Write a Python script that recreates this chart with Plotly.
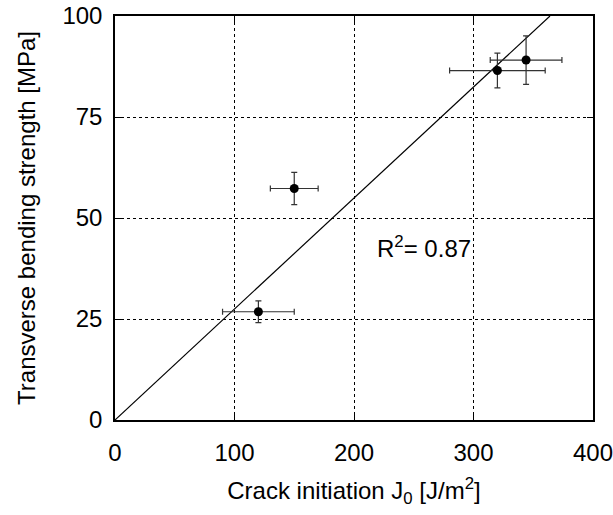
import plotly.graph_objects as go

# Data
j0 = [120, 150, 320, 344]
j0_err = [30, 20, 40, 30]
strength = [26.8, 57.3, 86.5, 89.1]
strength_err = [2.7, 4.0, 4.3, 6.0]

fit_x = [0, 364]
fit_y = [0, 100]

x_ticks = [0, 100, 200, 300, 400]
y_ticks = [0, 25, 50, 75, 100]

font_family = "Liberation Sans, Arial, Helvetica, sans-serif"
fs = 24

fig = go.Figure()
fig.add_trace(go.Scatter(
    x=fit_x, y=fit_y, mode="lines",
    line=dict(color="black", width=1.2), showlegend=False, hoverinfo="skip"))
fig.add_trace(go.Scatter(
    x=j0, y=strength, mode="markers",
    marker=dict(color="black", size=9),
    error_x=dict(type="data", array=j0_err, color="#333333", thickness=1.2, width=3),
    error_y=dict(type="data", array=strength_err, color="#333333", thickness=1.2, width=3),
    showlegend=False))

fig.add_annotation(x=258.6, y=42.8, text="R<sup>2</sup>= 0.87", showarrow=False,
                   font=dict(size=fs, color="black", family=font_family))

axis_common = dict(
    showgrid=True, gridcolor="black", griddash="dot", gridwidth=1,
    showline=True, linecolor="black", linewidth=1.5, mirror="ticks",
    ticks="inside", ticklen=6, tickcolor="black", tickwidth=1,
    zeroline=False, automargin=False, ticklabeloverflow="allow",
    tickfont=dict(size=fs, color="black", family=font_family),
    title_font=dict(size=fs, color="black", family=font_family),
)

fig.update_xaxes(range=[0, 400], tickvals=x_ticks,
                 title_text="Crack initiation J<sub>0</sub> [J/m<sup>2</sup>]",
                 title_standoff=18, ticklabelstandoff=10, **axis_common)
fig.update_yaxes(range=[0, 100], tickvals=y_ticks,
                 title_text="Transverse bending strength [MPa]",
                 title_standoff=20, ticklabelstandoff=6, **axis_common)

fig.update_layout(
    width=613, height=515,
    margin=dict(l=115, r=20, t=16, b=95, autoexpand=False),
    plot_bgcolor="white", paper_bgcolor="white",
    font=dict(family=font_family, color="black", size=fs),
)

fig.write_html("out.html")
